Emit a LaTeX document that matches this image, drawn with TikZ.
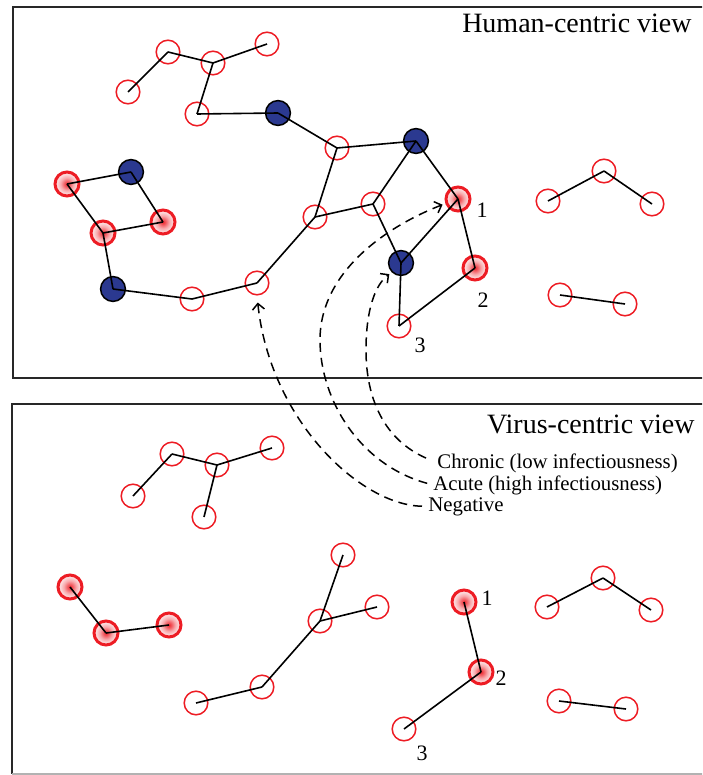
\documentclass[tikz,border=0pt]{standalone}
\usepackage{fontspec}
\setmainfont{Liberation Serif}
\usetikzlibrary{arrows.meta}
\definecolor{circred}{RGB}{237,28,36}
\definecolor{nodeblue}{RGB}{43,57,144}
\definecolor{framegray}{RGB}{40,40,40}
\pgfdeclareradialshading{pinkglow}{\pgfpoint{0bp}{0bp}}{color(0bp)=(circred!95); color(6bp)=(circred!70); color(13bp)=(circred!38); color(20bp)=(circred!18); color(25bp)=(circred!12); color(50bp)=(circred!12)}
\tikzset{
  opn/.style={circle, draw=circred, line width=0.75pt, minimum size=11.8pt, inner sep=0pt},
  hot/.style={circle, draw=circred, line width=1.5pt, minimum size=12pt, inner sep=0pt, shading=pinkglow},
  blu/.style={circle, draw=black, fill=nodeblue, line width=0.75pt, minimum size=12.4pt, inner sep=0pt},
  lnk/.style={line width=0.8pt, draw=black},
  obs/.style={dash pattern=on 4.5pt off 3pt, line width=0.75pt, -{Straight Barb[length=3pt,width=6pt]}},
  frame/.style={draw=framegray, line width=1pt},
  ttl/.style={font=\fontsize{14}{16}\selectfont, inner sep=0pt},
  lab/.style={font=\fontsize{10.4}{12}\selectfont, inner sep=0pt},
  num/.style={font=\fontsize{11}{13}\selectfont, inner sep=0pt},
}
\begin{document}
\begin{tikzpicture}[x=0.5pt, y=-0.5pt]
\path[use as bounding box] (0,0) rectangle (702,775);
\clip (0,0) rectangle (702,775);
% frames
\draw[frame] (13,7) rectangle (706,378);
\draw[frame] (706,404) -- (12,404) -- (12,774);
\draw[draw=black!30, line width=0.6pt] (12,774) -- (706,774);
% titles
\node[ttl, anchor=base east] (htitle) at (692,33) {Human-centric view};
\node[ttl, anchor=base east] (vtitle) at (695,433) {Virus-centric view};
% ---------- top panel nodes ----------
\node[opn] (a1) at (168,52) {};
\node[opn] (a2) at (213,63) {};
\node[opn] (a3) at (267,44) {};
\node[opn] (a4) at (128,92) {};
\node[opn] (a5) at (197,114) {};
\node[blu] (b1) at (278,113) {};
\node[opn] (a6) at (337,148) {};
\node[blu] (b2) at (416,141) {};
\node[opn] (a7) at (373,204) {};
\node[hot] (r1) at (458,199) {};
\node[blu] (b3) at (401,263) {};
\node[hot] (r2) at (475,268) {};
\node[opn] (a8) at (399,326) {};
\node[hot] (r3) at (67,184) {};
\node[blu] (b4) at (131,172) {};
\node[hot] (r4) at (163,222) {};
\node[hot] (r5) at (103,233) {};
\node[blu] (b5) at (113,289) {};
\node[opn] (a10) at (192,299) {};
\node[opn] (a11) at (257,283) {};
\node[opn] (a9) at (315,217) {};
\node[opn] (c1) at (604,171) {};
\node[opn] (c2) at (548,201) {};
\node[opn] (c3) at (652,204) {};
\node[opn] (d1) at (560,295) {};
\node[opn] (d2) at (625,304) {};
% top edges
\foreach \u/\v in {a4/a1, a1/a2, a2/a3, a2/a5, a5/b1, b1/a6, a6/b2, a6/a9, a9/a7, a9/a11,
  a11/a10, a10/b5, b5/r5, r5/r3, r3/b4, b4/r4, r4/r5, a7/b2, b2/r1, a7/b3, b3/r1, r1/r2,
  b3/a8, a8/r2, c2/c1, c1/c3, d1/d2}
  \draw[lnk] (\u.center) -- (\v.center);
\node[num] (tn1) at (482,210) {1};
\node[num] (tn2) at (483,300) {2};
\node[num] (tn3) at (420,345) {3};
% ---------- bottom panel nodes ----------
\node[opn] (e1) at (172,454) {};
\node[opn] (e2) at (217,465) {};
\node[opn] (e3) at (272,448) {};
\node[opn] (e4) at (133,496) {};
\node[opn] (e5) at (204,517) {};
\node[hot] (s1) at (70,587) {};
\node[hot] (s2) at (106,633) {};
\node[hot] (s3) at (169,625) {};
\node[opn] (g1) at (196,703) {};
\node[opn] (g2) at (262,687) {};
\node[opn] (f2) at (320,621) {};
\node[opn] (f1) at (343,555) {};
\node[opn] (f3) at (377,607) {};
\node[hot] (t1) at (464,602) {};
\node[hot] (t2) at (481,672) {};
\node[opn] (t3) at (404,729) {};
\node[opn] (h1) at (547,607) {};
\node[opn] (h2) at (603,578) {};
\node[opn] (h3) at (651,610) {};
\node[opn] (j1) at (559,701) {};
\node[opn] (j2) at (626,709) {};
\foreach \u/\v in {e4/e1, e1/e2, e2/e3, e2/e5, s1/s2, s2/s3, g1/g2, g2/f2, f2/f1, f2/f3,
  t1/t2, t2/t3, h1/h2, h2/h3, j1/j2}
  \draw[lnk] (\u.center) -- (\v.center);
\node[num] (bn1) at (487,598) {1};
\node[num] (bn2) at (501,678) {2};
\node[num] (bn3) at (422,753) {3};
% ---------- legend labels ----------
\node[lab, anchor=base west] (chr) at (437,468) {Chronic (low infectiousness)};
\node[lab, anchor=base west] (acu) at (433,490) {Acute (high infectiousness)};
\node[lab, anchor=base west] (neg) at (428,511) {Negative};
% dashed arrows
\draw[obs, shorten <=3pt, shorten >=3.5pt] (neg.west) .. controls (360,505) and (270,420) .. (a11.270);
\draw[obs, shorten <=3pt, shorten >=1.5pt] (acu.west) .. controls (360,465) and (320,400) .. (320,340)
   .. controls (320,270) and (390,225) .. (r1.200);
\draw[obs, shorten <=6pt, shorten >=1.5pt] (chr.west) .. controls (385,440) and (366,400) .. (366,350)
   .. controls (366,310) and (375,285) .. (b3.225);
\end{tikzpicture}
\end{document}
